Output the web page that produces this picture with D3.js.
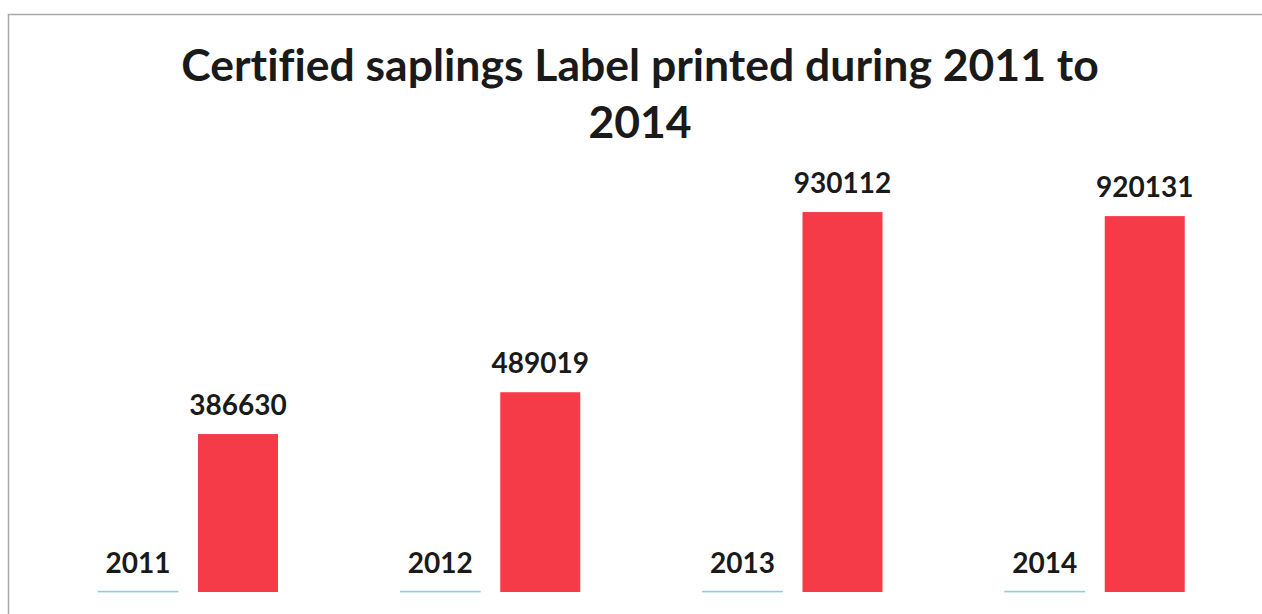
<!DOCTYPE html>
<html>
  <head>
    <script src="https://d3js.org/d3.v7.min.js"></script>
    <style>
      body { margin: 0; background: #fff; }
      text { font-family: Lato, "Open Sans", sans-serif; font-weight: bold; fill: #1a1a1a; font-variant-ligatures: none; }
    </style>
  </head>
  <body>
    <svg width="1262" height="614"></svg>
  </body>
  <script>
    const years = ['2011', '2012', '2013', '2014'];
    const yearValues = [2011, 2012, 2013, 2014];
    const labelCounts = [386630, 489019, 930112, 920131];
    const titleLines = ['Certified saplings Label printed during 2011 to', '2014'];

    const svg = d3.select('svg');

    // chart border (cropped at right and bottom in the scan)
    svg.append('rect')
      .attr('x', 8.5).attr('y', 14.5)
      .attr('width', 1300).attr('height', 700)
      .attr('fill', 'none')
      .attr('stroke', '#a8a8a8')
      .attr('stroke-width', 1.5);

    const plot = { left: 37, right: 1246, top: 183.5, bottom: 592 };

    const x = d3.scaleBand()
      .domain(years)
      .range([plot.left, plot.right])
      .padding(0);

    const inner = d3.scaleBand()
      .domain(['year', 'count'])
      .range([61, 241])
      .paddingInner(0.2)
      .paddingOuter(0);

    const y = d3.scaleLinear()
      .domain([0, 1000000])
      .range([plot.bottom, plot.top]);

    const data = years.map((k, i) => ({ key: k, year: yearValues[i], count: labelCounts[i] }));

    const g = svg.append('g');

    // year series (tiny bars on this scale)
    g.selectAll('rect.year').data(data)
      .enter().append('rect')
        .attr('class', 'year')
        .attr('x', d => x(d.key) + inner('year'))
        .attr('y', d => y(d.year))
        .attr('width', inner.bandwidth())
        .attr('height', d => y(0) - y(d.year))
        .attr('fill', '#6fc0d6')
        .attr('stroke', '#8fcfe0')
        .attr('stroke-width', 0.8);

    g.selectAll('rect.count').data(data)
      .enter().append('rect')
        .attr('class', 'count')
        .attr('x', d => x(d.key) + inner('count'))
        .attr('y', d => y(d.count))
        .attr('width', inner.bandwidth())
        .attr('height', d => y(0) - y(d.count))
        .attr('fill', '#f43b47');

    // data labels
    g.selectAll('text.ylab').data(data)
      .enter().append('text')
        .attr('class', 'ylab')
        .attr('text-anchor', 'middle')
        .attr('x', d => x(d.key) + inner('year') + inner.bandwidth() / 2)
        .attr('y', d => y(d.year) - 18)
        .style('font-size', '28px')
        .text(d => d.year);

    g.selectAll('text.clab').data(data)
      .enter().append('text')
        .attr('class', 'clab')
        .attr('text-anchor', 'middle')
        .attr('x', d => x(d.key) + inner('count') + inner.bandwidth() / 2)
        .attr('y', d => y(d.count) - 19)
        .style('font-size', '28px')
        .text(d => d.count);

    // title
    svg.selectAll('text.title').data(titleLines)
      .enter().append('text')
        .attr('class', 'title')
        .attr('text-anchor', 'middle')
        .attr('x', 640)
        .attr('y', (d, i) => 81 + i * 57)
        .style('font-size', '44.5px')
        .text(d => d);
  </script>
</html>
